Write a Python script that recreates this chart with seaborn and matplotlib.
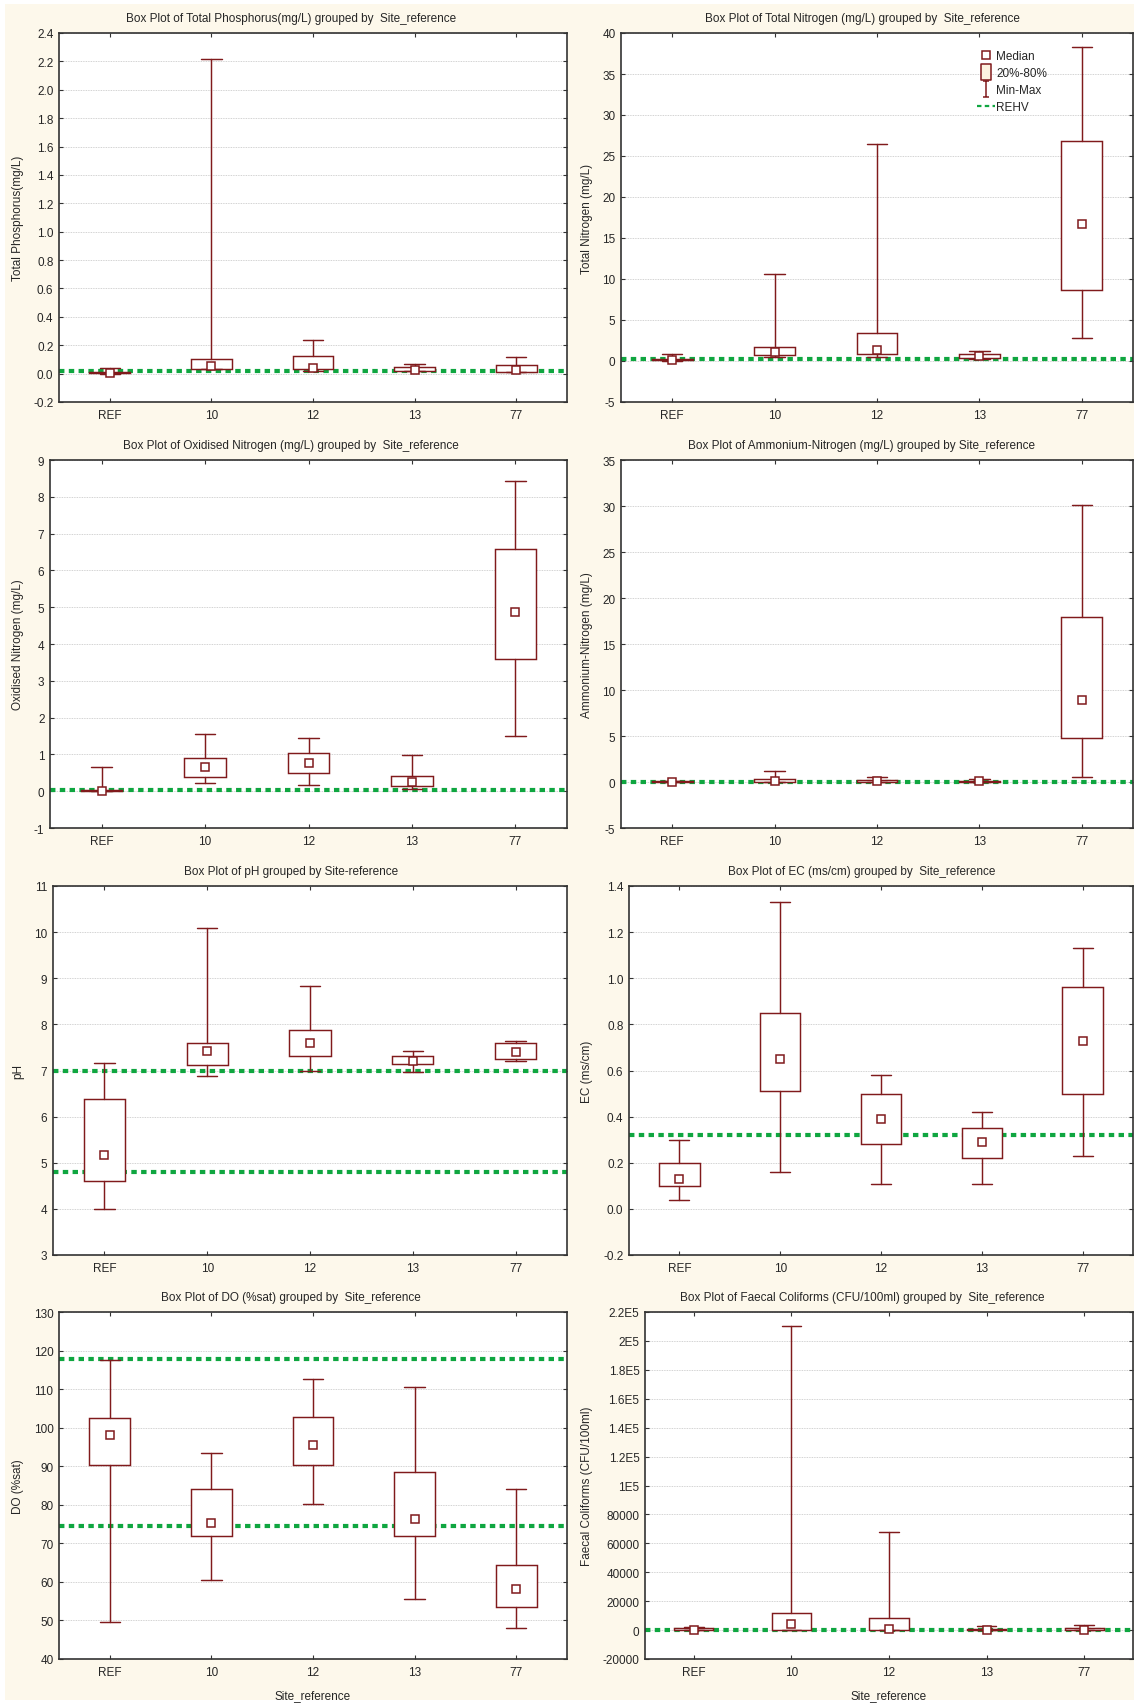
import matplotlib
matplotlib.use("Agg")
import numpy as np
import pandas as pd
import matplotlib.pyplot as plt
from matplotlib.lines import Line2D
from matplotlib.path import Path
from matplotlib.patches import Rectangle
from matplotlib.ticker import FixedLocator, FixedFormatter
import seaborn as sns

sites = ["REF", "10", "12", "13", "77"]

# Total phosphorus (mg/L)
tp_min = [0.0, 0.03, 0.02, 0.015, 0.01]
tp_q20 = [0.003, 0.035, 0.035, 0.02, 0.012]
tp_med = [0.005, 0.055, 0.04, 0.025, 0.025]
tp_q80 = [0.01, 0.10, 0.125, 0.045, 0.06]
tp_max = [0.04, 2.22, 0.24, 0.07, 0.115]
tp_rehv = [0.015]

# Total nitrogen (mg/L)
tn_min = [0.05, 0.5, 0.45, 0.3, 2.8]
tn_q20 = [0.1, 0.75, 0.8, 0.35, 8.7]
tn_med = [0.15, 1.15, 1.4, 0.6, 16.7]
tn_q80 = [0.3, 1.65, 3.4, 0.9, 26.8]
tn_max = [0.8, 10.6, 26.5, 1.2, 38.3]
tn_rehv = [0.25]

# Oxidised nitrogen (mg/L)
on_min = [0.0, 0.23, 0.17, 0.06, 1.51]
on_q20 = [0.005, 0.39, 0.49, 0.13, 3.59]
on_med = [0.01, 0.65, 0.77, 0.24, 4.88]
on_q80 = [0.02, 0.89, 1.05, 0.42, 6.59]
on_max = [0.65, 1.55, 1.45, 0.98, 8.44]
on_rehv = [0.04]

# Ammonium-nitrogen (mg/L)
an_min = [0.01, 0.03, 0.02, 0.03, 0.51]
an_q20 = [0.02, 0.04, 0.05, 0.05, 4.82]
an_med = [0.03, 0.15, 0.1, 0.1, 8.88]
an_q80 = [0.08, 0.33, 0.22, 0.15, 17.97]
an_max = [0.1, 1.23, 0.58, 0.3, 30.15]
an_rehv = [-0.05]

# pH
ph_min = [3.99, 6.88, 7.0, 6.97, 7.2]
ph_q20 = [4.6, 7.13, 7.32, 7.15, 7.24]
ph_med = [5.16, 7.42, 7.59, 7.2, 7.41]
ph_q80 = [6.39, 7.59, 7.87, 7.31, 7.6]
ph_max = [7.17, 10.08, 8.83, 7.43, 7.64]
ph_rehv = [7.0, 4.8]

# EC (ms/cm)
ec_min = [0.04, 0.16, 0.11, 0.11, 0.23]
ec_q20 = [0.1, 0.51, 0.28, 0.22, 0.5]
ec_med = [0.13, 0.65, 0.39, 0.29, 0.73]
ec_q80 = [0.2, 0.85, 0.5, 0.35, 0.96]
ec_max = [0.3, 1.33, 0.58, 0.42, 1.13]
ec_rehv = [0.32]

# DO (%sat)
do_min = [49.7, 60.4, 80.2, 55.6, 48.1]
do_q20 = [90.3, 71.9, 90.2, 71.9, 53.6]
do_med = [98.2, 75.2, 95.5, 76.2, 58.2]
do_q80 = [102.5, 84.0, 102.8, 88.5, 64.3]
do_max = [117.5, 93.4, 112.6, 110.5, 84.2]
do_rehv = [117.7, 74.5]

# Faecal coliforms (CFU/100ml)
fc_min = [0, 50, 50, 0, 0]
fc_q20 = [100, 100, 100, 100, 200]
fc_med = [300, 4050, 500, 400, 300]
fc_q80 = [1500, 11700, 8700, 1000, 1200]
fc_max = [2000, 210000, 67600, 3100, 3800]
fc_rehv = [0]

tp_ticks = [-0.2, 0.0, 0.2, 0.4, 0.6, 0.8, 1.0, 1.2, 1.4, 1.6, 1.8, 2.0, 2.2, 2.4]
tn_ticks = [-5, 0, 5, 10, 15, 20, 25, 30, 35, 40]
on_ticks = [-1, 0, 1, 2, 3, 4, 5, 6, 7, 8, 9]
an_ticks = [-5, 0, 5, 10, 15, 20, 25, 30, 35]
ph_ticks = [3, 4, 5, 6, 7, 8, 9, 10, 11]
ec_ticks = [-0.2, 0.0, 0.2, 0.4, 0.6, 0.8, 1.0, 1.2, 1.4]
do_ticks = [40, 50, 60, 70, 80, 90, 100, 110, 120, 130]
fc_ticks = [-20000, 0, 20000, 40000, 60000, 80000, 100000, 120000,
            140000, 160000, 180000, 200000, 220000]
fc_labels = ["-20000", "0", "20000", "40000", "60000", "80000", "1E5",
             "1.2E5", "1.4E5", "1.6E5", "1.8E5", "2E5", "2.2E5"]

RED = "#801a1c"
GREEN = "#0fa640"
CREAM = "#fdf8eb"
W, H = 1137, 1706

sns.set_style("ticks")
plt.rcParams["font.family"] = ["Liberation Sans", "DejaVu Sans"]
plt.rcParams["axes.unicode_minus"] = False

fig = plt.figure(figsize=(W / 100, H / 100), dpi=100, facecolor="white")
fig.patches.append(Rectangle((5 / W, 5 / H), (W - 8) / W, (H - 10) / H,
                             transform=fig.transFigure, facecolor=CREAM,
                             edgecolor="none", zorder=-10))

panels = [
    ("Box Plot of Total Phosphorus(mg/L) grouped by  Site_reference", "Total Phosphorus(mg/L)",
     (tp_min, tp_q20, tp_med, tp_q80, tp_max), tp_rehv, tp_ticks, ["%.1f" % t for t in tp_ticks]),
    ("Box Plot of Total Nitrogen (mg/L) grouped by  Site_reference", "Total Nitrogen (mg/L)",
     (tn_min, tn_q20, tn_med, tn_q80, tn_max), tn_rehv, tn_ticks, [str(t) for t in tn_ticks]),
    ("Box Plot of Oxidised Nitrogen (mg/L) grouped by  Site_reference", "Oxidised Nitrogen (mg/L)",
     (on_min, on_q20, on_med, on_q80, on_max), on_rehv, on_ticks, [str(t) for t in on_ticks]),
    ("Box Plot of Ammonium-Nitrogen (mg/L) grouped by Site_reference", "Ammonium-Nitrogen (mg/L)",
     (an_min, an_q20, an_med, an_q80, an_max), an_rehv, an_ticks, [str(t) for t in an_ticks]),
    ("Box Plot of pH grouped by Site-reference", "pH",
     (ph_min, ph_q20, ph_med, ph_q80, ph_max), ph_rehv, ph_ticks, [str(t) for t in ph_ticks]),
    ("Box Plot of EC (ms/cm) grouped by  Site_reference", "EC (ms/cm)",
     (ec_min, ec_q20, ec_med, ec_q80, ec_max), ec_rehv, ec_ticks, ["%.1f" % t for t in ec_ticks]),
    ("Box Plot of DO (%sat) grouped by  Site_reference", "DO (%sat)",
     (do_min, do_q20, do_med, do_q80, do_max), do_rehv, do_ticks, [str(t) for t in do_ticks]),
    ("Box Plot of Faecal Coliforms (CFU/100ml) grouped by  Site_reference", "Faecal Coliforms (CFU/100ml)",
     (fc_min, fc_q20, fc_med, fc_q80, fc_max), fc_rehv, fc_ticks, fc_labels),
]

# axes placement in pixels: left edge per panel, row top/bottom
lefts = [59, 621, 50, 621, 53, 629, 59, 645]
rights = [567, 1133]
rows = [(34, 403), (461, 829), (887, 1256), (1313, 1660)]
title_x = [291, 862]
ylabel_x = [18, 587]
FS = 8.5
LW = 1.05

for i, (title, ylab, st, rehv, ticks, labels) in enumerate(panels):
    r, c = divmod(i, 2)
    top, bot = rows[r]
    left, right = lefts[i], rights[c]
    ax = fig.add_axes([left / W, 1 - bot / H, (right - left) / W, (bot - top) / H])
    ax.set_facecolor("white")

    for v in rehv:
        ax.axhline(v, color=GREEN, lw=3.0, ls=(0, (1.3, 1.05)), zorder=2)

    stats = [dict(whislo=st[0][k], q1=st[1][k], med=st[2][k], q3=st[3][k], whishi=st[4][k])
             for k in range(len(sites))]
    ax.bxp(stats, positions=range(len(sites)), widths=0.4, capwidths=0.2,
           patch_artist=True, showfliers=False, manage_ticks=False, zorder=3,
           boxprops=dict(facecolor="white", edgecolor=RED, linewidth=LW),
           whiskerprops=dict(color=RED, linewidth=LW),
           capprops=dict(color=RED, linewidth=LW),
           medianprops=dict(visible=False))

    df = pd.DataFrame({"site": sites, "median": st[2]})
    sns.pointplot(data=df, x="site", y="median", order=sites, linestyle="none",
                  markers="s", errorbar=None, color=RED, markerfacecolor="white",
                  markersize=6, markeredgewidth=1.1, zorder=5, ax=ax)

    ax.set_xlim(-0.5, len(sites) - 0.5)
    ax.set_ylim(ticks[0], ticks[-1])
    ax.yaxis.set_major_locator(FixedLocator(ticks))
    ax.yaxis.set_major_formatter(FixedFormatter(labels))
    ax.set_xlabel("")
    ax.set_ylabel("")
    ax.yaxis.grid(True, color="#c4c4c4", lw=0.6, ls=(0, (1, 1)))
    ax.xaxis.grid(False)
    ax.set_axisbelow(True)
    ax.tick_params(axis="both", direction="in", length=3, width=0.8, color="#333333",
                   labelsize=FS, top=True, right=True)
    ax.tick_params(axis="x", pad=5)
    ax.tick_params(axis="y", pad=4)
    for sp in ax.spines.values():
        sp.set_visible(True)
        sp.set_color("#333333")
        sp.set_linewidth(1.2)

    fig.text(title_x[c] / W, 1 - (top - 15) / H, title, ha="center", va="center", fontsize=FS)
    fig.text(ylabel_x[c] / W, 1 - (top + bot) / 2 / H, ylab, ha="center", va="center",
             rotation=90, fontsize=FS)
    if r == 3:
        fig.text((left + right) / 2 / W, 1 - 1696 / H, "Site_reference",
                 ha="center", va="center", fontsize=FS)

    if i == 1:
        beam = Path([(-0.35, 1), (0.35, 1), (0, 1), (0, -1), (-0.35, -1), (0.35, -1)],
                    [Path.MOVETO, Path.LINETO, Path.MOVETO, Path.LINETO, Path.MOVETO, Path.LINETO])
        rect = Path([(-0.65, -1), (0.65, -1), (0.65, 1), (-0.65, 1), (-0.65, -1)],
                    [Path.MOVETO, Path.LINETO, Path.LINETO, Path.LINETO, Path.CLOSEPOLY])
        handles = [
            Line2D([], [], ls="none", marker="s", ms=6, mfc="white", mec=RED, mew=1.1),
            Line2D([], [], ls="none", marker=rect, ms=12, mfc="#fdf3e0", mec=RED, mew=1.1),
            Line2D([], [], ls="none", marker=beam, ms=12, mfc="none", mec=RED, mew=1.1),
            Line2D([], [], color=GREEN, lw=1.6, ls=(0, (2, 1.5))),
        ]
        ax.legend(handles, ["Median", "20%-80%", "Min-Max", "REHV"], loc="upper left",
                  bbox_to_anchor=(977 / W, 1 - 51 / H), bbox_transform=fig.transFigure,
                  frameon=False, fontsize=FS, handlelength=1.5, handletextpad=0.15,
                  labelspacing=0.42, borderpad=0, borderaxespad=0)

fig.savefig("out.png", dpi=100, facecolor="white")
